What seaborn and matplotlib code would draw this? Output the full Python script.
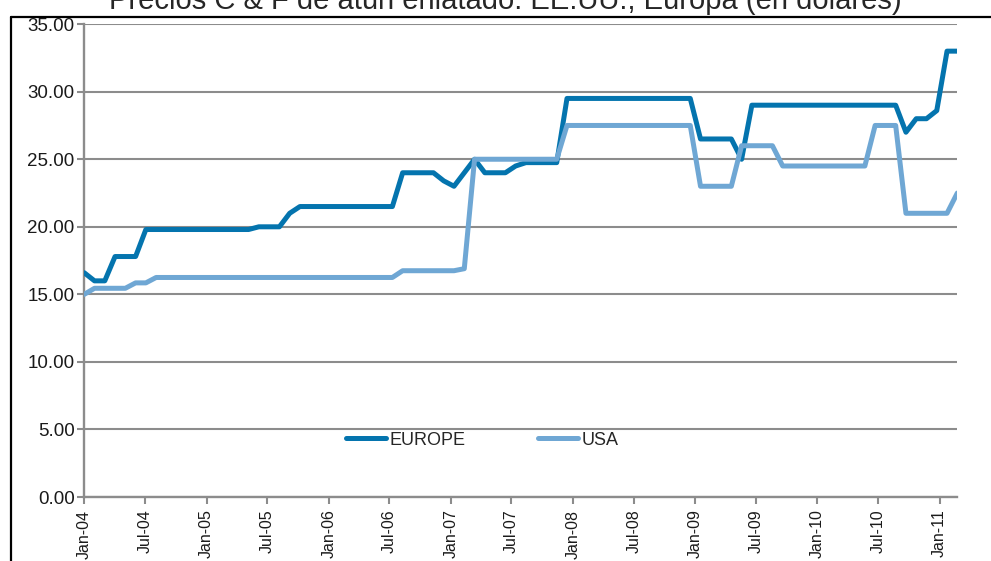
import pandas as pd
import matplotlib
matplotlib.use('Agg')
import matplotlib.pyplot as plt
import matplotlib.dates as mdates
from matplotlib.lines import Line2D
import seaborn as sns

sns.set_style('white')
plt.rcParams['font.family'] = ['Liberation Sans', 'DejaVu Sans']

TITLE = 'Precios C & F de atún enlatado: EE.UU., Europa (en dólares)'
SERIES = ['EUROPE', 'USA']
COLORS = {'EUROPE': '#0474ae', 'USA': '#6fa7d4'}
GRID = '#8c8c8c'

# monthly prices, Jan-04 .. Feb-11 (86 points)
europe = [16.6, 16.0, 16.0, 17.8, 17.8, 17.8, 19.8, 19.8, 19.8, 19.8, 19.8, 19.8,   # 2004
          19.8, 19.8, 19.8, 19.8, 19.8, 20.0, 20.0, 20.0, 21.0, 21.5, 21.5, 21.5,   # 2005
          21.5, 21.5, 21.5, 21.5, 21.5, 21.5, 21.5, 24.0, 24.0, 24.0, 24.0, 23.4,   # 2006
          23.0, 24.0, 25.0, 24.0, 24.0, 24.0, 24.5, 24.75, 24.75, 24.75, 24.75, 29.5,  # 2007
          29.5, 29.5, 29.5, 29.5, 29.5, 29.5, 29.5, 29.5, 29.5, 29.5, 29.5, 29.5,   # 2008
          26.5, 26.5, 26.5, 26.5, 25.0, 29.0, 29.0, 29.0, 29.0, 29.0, 29.0, 29.0,   # 2009
          29.0, 29.0, 29.0, 29.0, 29.0, 29.0, 29.0, 29.0, 27.0, 28.0, 28.0, 28.6,   # 2010
          33.0, 33.0]                                                               # 2011
usa = [15.0, 15.45, 15.45, 15.45, 15.45, 15.85, 15.85, 16.25, 16.25, 16.25, 16.25, 16.25,
       16.25, 16.25, 16.25, 16.25, 16.25, 16.25, 16.25, 16.25, 16.25, 16.25, 16.25, 16.25,
       16.25, 16.25, 16.25, 16.25, 16.25, 16.25, 16.25, 16.75, 16.75, 16.75, 16.75, 16.75,
       16.75, 16.9, 25.0, 25.0, 25.0, 25.0, 25.0, 25.0, 25.0, 25.0, 25.0, 27.5,
       27.5, 27.5, 27.5, 27.5, 27.5, 27.5, 27.5, 27.5, 27.5, 27.5, 27.5, 27.5,
       23.0, 23.0, 23.0, 23.0, 26.0, 26.0, 26.0, 26.0, 24.5, 24.5, 24.5, 24.5,
       24.5, 24.5, 24.5, 24.5, 24.5, 27.5, 27.5, 27.5, 21.0, 21.0, 21.0, 21.0,
       21.0, 22.5]

# the points are spread evenly over the axis (slightly wider than calendar months)
dates = pd.date_range('2004-01-01', '2011-02-23', periods=len(europe))

df = pd.DataFrame({'date': dates, 'EUROPE': europe, 'USA': usa})
df = df.melt('date', var_name='serie', value_name='precio')

fig = plt.figure(figsize=(9.91, 5.61), dpi=100)
ax = fig.add_axes([0.085, 0.114, 0.881, 0.843])

sns.lineplot(data=df, x='date', y='precio', hue='serie', hue_order=SERIES,
             palette=COLORS, linewidth=3.6, ax=ax, zorder=3)

# axes styling
ax.set_ylim(0, 35)
ax.set_yticks(range(0, 36, 5))
ax.yaxis.set_major_formatter(matplotlib.ticker.FormatStrFormatter('%.2f'))
ax.set_xlim(dates[0], dates[-1])
ax.xaxis.set_major_locator(mdates.MonthLocator(bymonth=[1, 7]))
ax.xaxis.set_major_formatter(mdates.DateFormatter('%b-%y'))
ax.yaxis.grid(True, color=GRID, linewidth=1.5)
ax.set_axisbelow(True)
ax.set_xlabel('')
ax.set_ylabel('')
for side in ['top', 'right']:
    ax.spines[side].set_visible(False)
for side in ['left', 'bottom']:
    ax.spines[side].set_color(GRID)
    ax.spines[side].set_linewidth(1.7)
ax.tick_params(axis='y', left=True, length=5, width=1.5, color=GRID,
               labelsize=13.5, pad=2, labelcolor='#1a1a1a')
ax.tick_params(axis='x', bottom=True, length=5, width=1.5, color=GRID,
               labelsize=11.5, pad=4, labelrotation=90, labelcolor='#1a1a1a')

handles, labels = ax.get_legend_handles_labels()
ax.legend(handles, labels, loc='center', bbox_to_anchor=(0.456, 0.12), ncol=2,
          frameon=False, fontsize=13, handlelength=2.2, handletextpad=0.2,
          columnspacing=4)

# title cut off at the top edge, as in the source
fig.text(0.51, 1 - 9 / 561, TITLE, ha='center', va='baseline', fontsize=21)

# black frame of the chart area
fig.add_artist(Line2D([11 / 991, 11 / 991], [0, 1 - 17 / 561], color='black',
                      lw=1.6, transform=fig.transFigure))
fig.add_artist(Line2D([11 / 991, 1], [1 - 17 / 561, 1 - 17 / 561], color='black',
                      lw=1.6, transform=fig.transFigure))

fig.savefig('out.png', dpi=100)
plt.close()
